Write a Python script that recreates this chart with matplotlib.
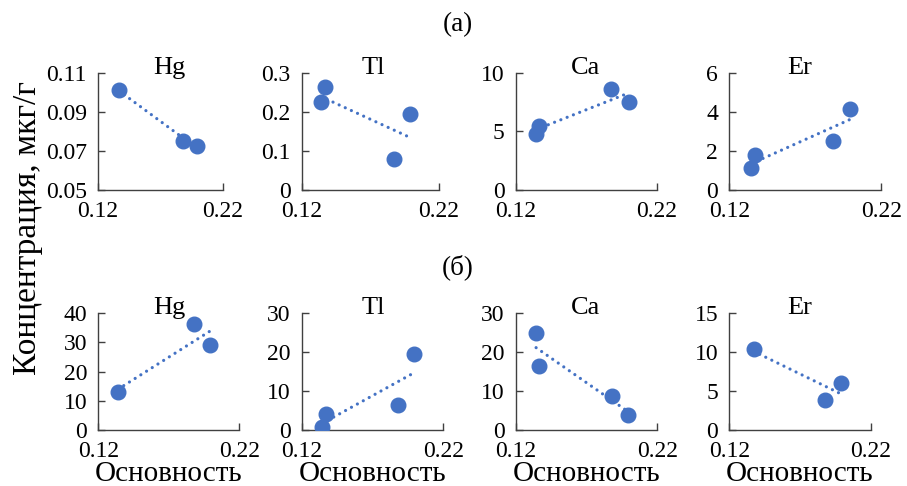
import numpy as np
import matplotlib
matplotlib.use('Agg')
import matplotlib.pyplot as plt

plt.rcParams['font.family'] = ['Liberation Serif', 'DejaVu Serif']

W, H = 907, 486

elements = ['Hg', 'Tl', 'Ca', 'Er']

# row (a)
x_hg_a = [0.1366, 0.1878, 0.1995]
y_hg_a = [0.1011, 0.0752, 0.0725]
x_tl_a = [0.1339, 0.1370, 0.1874, 0.1990]
y_tl_a = [0.224, 0.264, 0.079, 0.194]
x_ca_a = [0.1342, 0.1367, 0.1877, 0.2002]
y_ca_a = [4.77, 5.46, 8.64, 7.50]
x_er_a = [0.1341, 0.1369, 0.1880, 0.1994]
y_er_a = [1.11, 1.79, 2.52, 4.16]

# row (б)
x_hg_b = [0.1340, 0.1877, 0.1994]
y_hg_b = [12.9, 36.4, 29.0]
x_tl_b = [0.1343, 0.1370, 0.1880, 0.1991]
y_tl_b = [0.85, 4.1, 6.5, 19.5]
x_ca_b = [0.1344, 0.1367, 0.1880, 0.1993]
y_ca_b = [24.9, 16.5, 8.8, 3.9]
x_er_b = [0.1372, 0.1875, 0.1992]
y_er_b = [10.45, 3.86, 6.08]

yticks_a = [[0.05, 0.07, 0.09, 0.11], [0, 0.1, 0.2, 0.3], [0, 5, 10], [0, 2, 4, 6]]
ylabels_a = [['0.05', '0.07', '0.09', '0.11'], ['0', '0.1', '0.2', '0.3'],
             ['0', '5', '10'], ['0', '2', '4', '6']]
yticks_b = [[0, 10, 20, 30, 40], [0, 10, 20, 30], [0, 10, 20, 30], [0, 5, 10, 15]]
ylabels_b = [[str(v) for v in t] for t in yticks_b]
xticks = [0.12, 0.22]
xlabels = ['0.12', '0.22']

data_a = [(x_hg_a, y_hg_a), (x_tl_a, y_tl_a), (x_ca_a, y_ca_a), (x_er_a, y_er_a)]
data_b = [(x_hg_b, y_hg_b), (x_tl_b, y_tl_b), (x_ca_b, y_ca_b), (x_er_b, y_er_b)]

blue = '#4472C4'
gray = '#404040'

# axes boxes in pixels: left, right
boxes_a = [(98, 223), (301.7, 438.7), (515.7, 657), (729.3, 881.3)]
boxes_b = [(98.3, 239.3), (301.7, 443.3), (515.7, 657.3), (729.3, 870.7)]
title_x = [169, 373, 586, 800]

fig = plt.figure(figsize=(W / 100, H / 100), dpi=100)


def px(x, y):
    return x / W, 1 - y / H


def panel(box, top, bottom, xs, ys, yt, ytl, name, tx, xlab):
    l, r = box
    ax = fig.add_axes([l / W, 1 - bottom / H, (r - l) / W, (bottom - top) / H])
    xs = np.array(xs)
    ys = np.array(ys)
    k, b = np.polyfit(xs, ys, 1)
    xl = np.array([xs.min(), xs.max()])
    ax.plot(xl, k * xl + b, color=blue, lw=2.3, linestyle=(0, (0.01, 2.1)),
            dash_capstyle='round', zorder=2)
    ax.plot(xs, ys, 'o', color=blue, ms=10.5, mec=blue, zorder=3)
    ax.set_xlim(0.12, 0.22)
    ax.set_ylim(yt[0], yt[-1])
    ax.set_xticks(xticks)
    ax.set_xticklabels(xlabels)
    ax.set_yticks(yt)
    ax.set_yticklabels(ytl)
    for s in ['top', 'right']:
        ax.spines[s].set_visible(False)
    for s in ['left', 'bottom']:
        ax.spines[s].set_color(gray)
        ax.spines[s].set_linewidth(1.0)
    ax.tick_params(direction='in', length=5, width=1.0, color=gray,
                   labelsize=17, pad=8)
    ax.tick_params(axis='x', pad=8)
    ax.patch.set_visible(False)
    for lab in ax.get_xticklabels() + ax.get_yticklabels():
        lab.set_clip_on(False)
    fig.text(*px(tx, top + 1), name, ha='center', va='baseline', fontsize=19)
    if xlab:
        fig.text(*px((l + r) / 2, 474), 'Основность', ha='center', va='center',
                 fontsize=21)
    return ax


for i in range(4):
    panel(boxes_a[i], 72.7, 190, data_a[i][0], data_a[i][1], yticks_a[i],
          ylabels_a[i], elements[i], title_x[i], False)
    panel(boxes_b[i], 313.3, 430, data_b[i][0], data_b[i][1], yticks_b[i],
          ylabels_b[i], elements[i], title_x[i], True)

fig.text(*px(458, 25), '(a)', ha='center', va='center', fontsize=19.5)
fig.text(*px(458, 267), '(б)', ha='center', va='center', fontsize=19.5)
fig.text(*px(28, 228), 'Концентрация, мкг/г', rotation=90, ha='center',
         va='center', fontsize=24)

fig.savefig('out.png', dpi=100)
